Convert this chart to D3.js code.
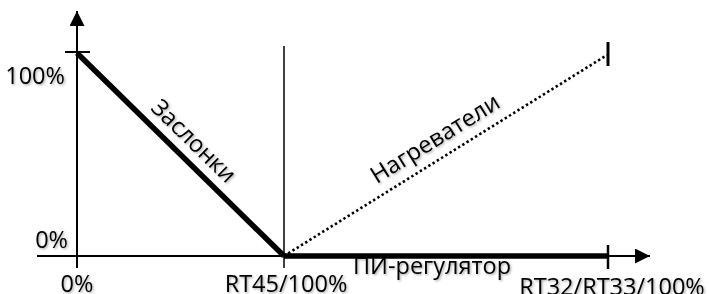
<!DOCTYPE html>
<html>
<head>
<meta charset="utf-8">
<script src="https://cdn.jsdelivr.net/npm/d3@7"></script>
<style>
  body { margin: 0; background: #fff; }
  text { font-family: "Open Sans", sans-serif; fill: #000; }
</style>
</head>
<body>
<script>
// stages on the x axis: 0 = start, 1 = RT45, 2 = RT32/RT33
const xTickStages = [0, 1, 2]
const xTickLabels = ["0%", "RT45/100%", "RT32/RT33/100%"]
const yTickValues = [100, 0]
const yTickLabels = ["100%", "0%"]

const dampers = [{ s: 0, v: 100 }, { s: 1, v: 0 }]
const piRegulator = [{ s: 1, v: 0 }, { s: 2, v: 0 }]
const heaters = [{ s: 1, v: 0 }, { s: 2, v: 99 }]

var width = 709,
    height = 294;

var svg = d3.select("body")
    .append("svg")
    .attr("width", width)
    .attr("height", height);

var defs = svg.append("defs");

// petite ombre grise sous les textes
defs.append("filter")
    .attr("id", "shadow")
    .attr("x", "-10%").attr("y", "-20%")
    .attr("width", "130%").attr("height", "160%")
    .append("feDropShadow")
    .attr("dx", 1.2).attr("dy", 1.2)
    .attr("stdDeviation", 0.9)
    .attr("flood-color", "#000")
    .attr("flood-opacity", 0.35);

defs.append("marker")
    .attr("id", "arrow")
    .attr("viewBox", "0 0 10 10")
    .attr("refX", 10).attr("refY", 5)
    .attr("markerWidth", 15).attr("markerHeight", 15)
    .attr("markerUnits", "userSpaceOnUse")
    .attr("orient", "auto")
    .append("path")
    .attr("d", "M0,0L10,5L0,10Z")
    .attr("fill", "#000");

var x = d3.scaleLinear().domain([0, 1, 2]).range([77, 284, 607]);
var y = d3.scaleLinear().domain([0, 100]).range([256, 53]);

var line = d3.line().x(d => x(d.s)).y(d => y(d.v));

// axes
svg.append("line")
    .attr("x1", 37).attr("x2", 650)
    .attr("y1", y(0)).attr("y2", y(0))
    .attr("stroke", "#000").attr("stroke-width", 2)
    .attr("marker-end", "url(#arrow)");

svg.append("line")
    .attr("x1", x(0)).attr("x2", x(0))
    .attr("y1", 268).attr("y2", 11)
    .attr("stroke", "#000").attr("stroke-width", 2)
    .attr("marker-end", "url(#arrow)");

// tick 100% on y axis
svg.append("line")
    .attr("x1", x(0) - 12).attr("x2", x(0) + 13)
    .attr("y1", y(100) - 1).attr("y2", y(100) - 1)
    .attr("stroke", "#000").attr("stroke-width", 2);

// vertical at RT45
svg.append("line")
    .attr("x1", x(1)).attr("x2", x(1))
    .attr("y1", 46).attr("y2", 268)
    .attr("stroke", "#000").attr("stroke-width", 1.5);

// end ticks at RT32/RT33
svg.append("line")
    .attr("x1", x(2) + 1).attr("x2", x(2) + 1)
    .attr("y1", y(0) - 11).attr("y2", y(0) + 13)
    .attr("stroke", "#000").attr("stroke-width", 2.5);

svg.append("line")
    .attr("x1", x(2) + 1).attr("x2", x(2) + 1)
    .attr("y1", y(99) - 13).attr("y2", y(99) + 11)
    .attr("stroke", "#000").attr("stroke-width", 3);

// series
svg.append("path").datum(heaters)
    .attr("d", line)
    .attr("fill", "none").attr("stroke", "#000")
    .attr("stroke-width", 2.6)
    .attr("stroke-dasharray", "2.4 2.6");

svg.append("path").datum(dampers)
    .attr("d", line)
    .attr("fill", "none").attr("stroke", "#000")
    .attr("stroke-width", 5.5);

svg.append("path").datum(piRegulator)
    .attr("d", line)
    .attr("fill", "none").attr("stroke", "#000")
    .attr("stroke-width", 5.5);

var labels = svg.append("g").attr("filter", "url(#shadow)").style("font-size", "23.5px");

// y labels
labels.selectAll(".ylab")
    .data(yTickValues)
    .join("text")
    .attr("class", "ylab")
    .attr("text-anchor", "end")
    .attr("x", (d, i) => i == 0 ? 65 : 68)
    .attr("y", (d, i) => i == 0 ? y(d) + 31 : y(d) - 8)
    .text((d, i) => yTickLabels[i]);

// x labels
labels.selectAll(".xlab")
    .data(xTickStages)
    .join("text")
    .attr("class", "xlab")
    .attr("text-anchor", "middle")
    .attr("x", (d, i) => [x(d), x(d) + 2, x(d) + 5][i])
    .attr("y", (d, i) => i == 2 ? 295 : 292)
    .text((d, i) => xTickLabels[i]);

labels.append("text")
    .attr("x", 353).attr("y", 274)
    .text("ПИ-регулятор");

// labels along the lines
function lineLabel(data, t, offset, text) {
    var x0 = x(data[0].s), y0 = y(data[0].v),
        x1 = x(data[1].s), y1 = y(data[1].v);
    var ang = Math.atan2(y1 - y0, x1 - x0);
    var px = x0 + (x1 - x0) * t + Math.sin(ang) * offset,
        py = y0 + (y1 - y0) * t - Math.cos(ang) * offset;
    labels.append("text")
        .attr("text-anchor", "middle")
        .attr("transform", `translate(${px},${py}) rotate(${ang * 180 / Math.PI})`)
        .text(text);
}

lineLabel(dampers, 0.5, 11, "Заслонки");
lineLabel(heaters, 0.5, 12, "Нагреватели");
</script>
</body>
</html>
